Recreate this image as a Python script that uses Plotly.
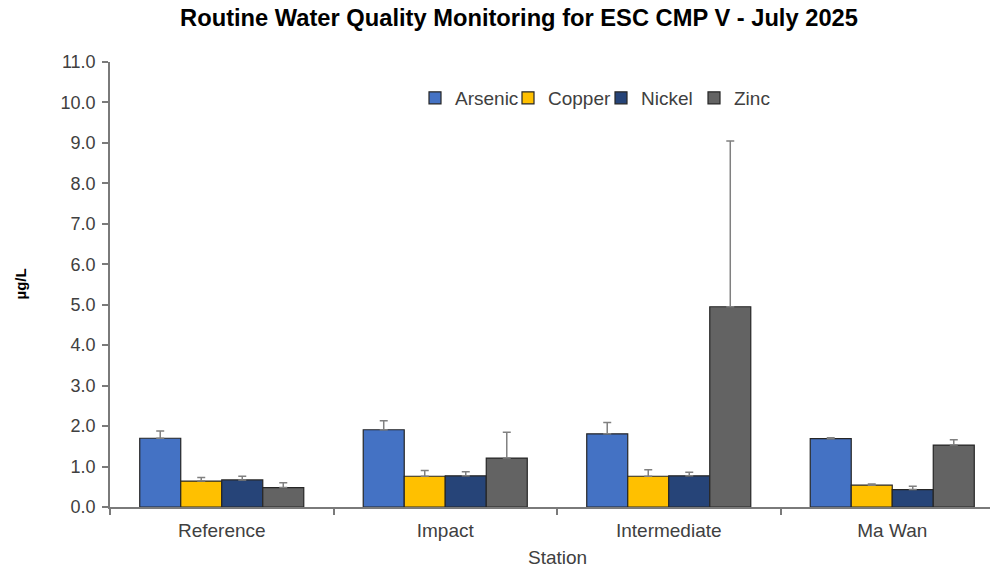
import plotly.graph_objects as go

stations = ["Reference", "Impact", "Intermediate", "Ma Wan"]
arsenic = [1.70, 1.91, 1.81, 1.69]
arsenic_err = [0.18, 0.22, 0.28, 0.02]
copper = [0.64, 0.76, 0.76, 0.54]
copper_err = [0.09, 0.14, 0.16, 0.03]
nickel = [0.67, 0.77, 0.77, 0.43]
nickel_err = [0.09, 0.10, 0.09, 0.08]
zinc = [0.48, 1.21, 4.95, 1.53]
zinc_err = [0.12, 0.64, 4.10, 0.13]

series = [
    ("Arsenic", arsenic, arsenic_err, "#4472C4"),
    ("Copper", copper, copper_err, "#FFC000"),
    ("Nickel", nickel, nickel_err, "#264478"),
    ("Zinc", zinc, zinc_err, "#636363"),
]

FONT = "Liberation Sans, Arial, sans-serif"
OFF = 8  # page body margin
W, H = 998 - 2 * OFF, 572 - 2 * OFF
ML, MT = 110 - OFF, 62 - OFF
MB = (572 - OFF) - 507
MR = 0
PW = W - ML - MR
PH = H - MT - MB
CAT_PX = 223.5
XMAX = -0.5 + PW / CAT_PX

fig = go.Figure()
for name, vals, errs, col in series:
    fig.add_trace(go.Bar(
        name=name, x=stations, y=vals,
        marker=dict(color=col, line=dict(color="#262626", width=1.2)),
        error_y=dict(type="data", array=errs, arrayminus=[0] * len(errs), symmetric=False,
                     color="#808080", thickness=1.5, width=4),
    ))

fig.update_layout(
    width=W, height=H,
    margin=dict(l=ML, r=MR, t=MT, b=MB),
    paper_bgcolor="white", plot_bgcolor="white",
    barmode="group", bargap=0.266, bargroupgap=0,
    font=dict(family=FONT, color="#404040", size=18),
    title=dict(text="<b>Routine Water Quality Monitoring for ESC CMP V - July 2025</b>",
               x=(519 - OFF) / W, xref="container", xanchor="center",
               y=1 - (18 - OFF) / H, yref="container", yanchor="middle",
               font=dict(family=FONT, size=23.7, color="#000000")),
    legend=dict(orientation="h", x=(415 - 110) / PW, xanchor="left",
                y=(507 - 98) / PH, yanchor="middle",
                font=dict(family=FONT, size=19, color="#404040"),
                entrywidth=48, entrywidthmode="pixels",
                bgcolor="rgba(0,0,0,0)"),
    xaxis=dict(range=[-0.5, XMAX], showline=True, linecolor="#7a7a7a", linewidth=1.5,
               ticks="outside", ticklen=6, tickcolor="#7a7a7a", tickwidth=1.5,
               tickson="boundaries", showgrid=False, ticklabelstandoff=5,
               tickfont=dict(family=FONT, size=19, color="#404040")),
    yaxis=dict(range=[0, 11], dtick=1, tickformat=".1f", showline=True,
               linecolor="#7a7a7a", linewidth=1.5, ticks="outside", ticklen=6,
               tickcolor="#7a7a7a", tickwidth=1.5, showgrid=False, zeroline=False,
               ticklabelstandoff=3,
               tickfont=dict(family=FONT, size=18, color="#404040")),
    annotations=[
        dict(text="<b>µg/L</b>", textangle=-90, xref="paper", yref="paper",
             x=(20 - 110) / PW, y=0.5, xanchor="center", yanchor="middle",
             showarrow=False, font=dict(family=FONT, size=15, color="#000000")),
        dict(text="Station", xref="paper", yref="paper",
             x=(557 - 110) / PW, y=-(557 - 507) / PH, xanchor="center", yanchor="middle",
             showarrow=False, font=dict(family=FONT, size=19, color="#404040")),
    ],
)

fig.write_html("out.html")
